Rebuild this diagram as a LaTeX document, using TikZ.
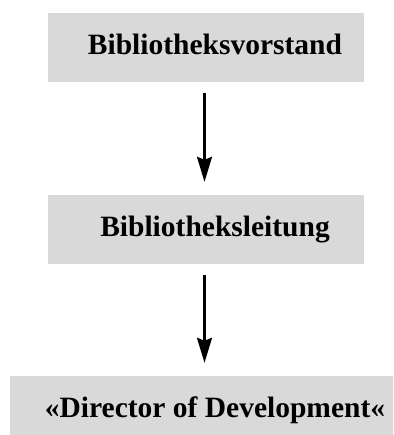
\documentclass[tikz,border=0pt]{standalone}
\usepackage{fontspec}
\setmainfont{Liberation Serif}
\usetikzlibrary{arrows.meta}
\definecolor{boxgray}{HTML}{D9D9D9}
\tikzset{
  orgbox/.style={fill=boxgray, draw=none, minimum width=316pt, minimum height=69pt,
    inner sep=0pt, text height=20pt, text depth=6pt,
    font=\bfseries\fontsize{29.5}{30}\selectfont},
  orgarrow/.style={line width=2.4pt, -{Stealth[length=25pt,width=15pt,inset=3pt]},
    shorten <=11pt, shorten >=13pt}
}
\begin{document}
\begin{tikzpicture}[x=1pt,y=1pt]
\useasboundingbox (0,0) rectangle (393,-435);
\clip (0,0) rectangle (393,-435);
\node[orgbox] (b1) at (206,-47.5) {\hspace*{18pt}Bibliotheksvorstand};
\node[orgbox] (b2) at (206,-229.5) {\hspace*{18pt}Bibliotheksleitung};
\node[orgbox, minimum width=392pt] (b3) at (206,-410.5) {\hspace*{18pt}«Director of Development«};
\draw[orgarrow] ([xshift=-1.5pt]b1.south) -- ([xshift=-1.5pt]b2.north);
\draw[orgarrow] ([xshift=-1.5pt]b2.south) -- ([xshift=-1.5pt]b3.north);
\end{tikzpicture}
\end{document}
